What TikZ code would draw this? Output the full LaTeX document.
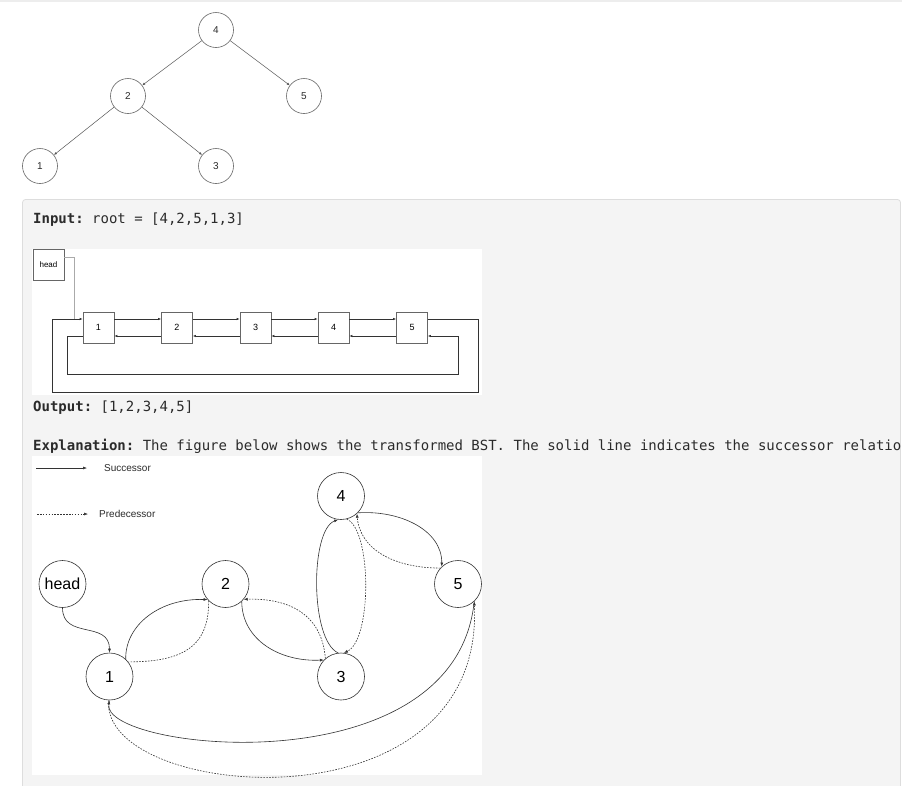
\documentclass[tikz,border=0pt]{standalone}
\usepackage{fontspec}
\setmainfont{Liberation Sans}
\newfontfamily\monof{DejaVu Sans Mono}
\usetikzlibrary{arrows.meta}
\frenchspacing
\definecolor{panelbg}{HTML}{F4F4F4}
\definecolor{panelrule}{HTML}{DDDDDD}
\definecolor{txt}{HTML}{2B2B2B}
\definecolor{treegray}{HTML}{666666}
\definecolor{edgegray}{HTML}{555555}
\definecolor{linegray}{HTML}{333333}
\definecolor{headgray}{HTML}{AAAAAA}
\tikzset{
  treenode/.style={circle, draw=treegray, line width=0.6pt, minimum size=35pt, inner sep=0pt, text=txt, font=\fontsize{10}{12}\selectfont},
  treeedge/.style={draw=edgegray, line width=0.5pt, -{Latex[length=3pt,width=2.4pt]}},
  llbox/.style={rectangle, draw=treegray, line width=0.6pt, minimum size=31pt, inner sep=0pt, text=black, font=\fontsize{9}{11}\selectfont},
  llarrow/.style={draw=linegray, line width=0.6pt, -{Latex[length=3pt,width=2.4pt]}},
  gnode/.style={circle, draw=linegray, line width=0.6pt, minimum size=47pt, inner sep=0pt, text=black, font=\fontsize{16}{19}\selectfont},
  succ/.style={draw=linegray, line width=0.6pt, -{Latex[length=4pt,width=3pt]}},
  pred/.style={draw=linegray, line width=0.6pt, dash pattern=on 1.6pt off 1.3pt, -{Latex[length=4pt,width=3pt]}},
  predplain/.style={draw=linegray, line width=0.6pt, dash pattern=on 1.6pt off 1.3pt},
  legtext/.style={anchor=west, inner sep=0pt, text=txt, font=\fontsize{10}{12}\selectfont},
  monotext/.style={anchor=base west, inner sep=0pt, text=txt, font=\monof\fontsize{14}{16}\selectfont\frenchspacing}
}
\begin{document}
\begin{tikzpicture}[x=1pt,y=-1pt]
\useasboundingbox (0,0) rectangle (902,785);
\fill[white] (0,0) rectangle (902,785);
\fill[black!7] (0,0) rectangle (902,2);
% panel
\filldraw[fill=panelbg, draw=panelrule, line width=0.8pt, rounded corners=3pt] (22.5,199.5) rectangle (900.5,810);
\fill[white] (32,249) rectangle (482,395);
\fill[white] (32,456) rectangle (482,775);

% ---------- top tree ----------
\node[treenode] (t4) at (216,30) {4};
\node[treenode] (t2) at (128,96) {2};
\node[treenode] (t5) at (304,96) {5};
\node[treenode] (t1) at (40,166) {1};
\node[treenode] (t3) at (216,166) {3};
\draw[treeedge] (t4) -- (t2);
\draw[treeedge] (t4) -- (t5);
\draw[treeedge] (t2) -- (t1);
\draw[treeedge] (t2) -- (t3);

% ---------- texts ----------
\node[monotext] (tin) at (33,223) {\textbf{Input:} root = [4,2,5,1,3]};
\node[monotext] (tout) at (33,411) {\textbf{Output:} [1,2,3,4,5]};
\node[monotext] (texp) at (33,450) {\textbf{Explanation:} The figure below shows the transformed BST. The solid line indicates the successor relation};

% ---------- linked list ----------
\node[llbox, font=\fontsize{8}{10}\selectfont] (hb) at (48.5,264.5) {head};
\node[llbox] (b1) at (98.5,327.5) {1};
\node[llbox] (b2) at (177,327.5) {2};
\node[llbox] (b3) at (255.5,327.5) {3};
\node[llbox] (b4) at (333.5,327.5) {4};
\node[llbox] (b5) at (412,327.5) {5};
\coordinate (hj) at (74,319);
\draw[headgray, line width=0.7pt] ([yshift=7.5pt]hb.east) -| (hj);
\foreach \a/\b in {b1/b2,b2/b3,b3/b4,b4/b5}{
  \draw[llarrow] ([yshift=8.5pt]\a.east) -- ([yshift=8.5pt]\b.west);
  \draw[llarrow] ([yshift=-8.5pt]\b.west) -- ([yshift=-8.5pt]\a.east);
}
\draw[llarrow] ([yshift=8.5pt]b5.east) -- (478,319) -- (478,392) -- (52,392) -- (52,319) -- ([yshift=8.5pt]b1.west);
\draw[llarrow] ([yshift=-8.5pt]b1.west) -- (67,336) -- (67,374) -- (458,374) -- (458,336) -- ([yshift=-8.5pt]b5.east);

% ---------- legend ----------
\coordinate (ls1) at (36,468);
\coordinate (ls2) at (87,468);
\coordinate (lp1) at (37,514);
\coordinate (lp2) at (88,514);
\draw[succ, line width=0.5pt, -{Latex[length=4pt,width=3pt]}] (ls1) -- (ls2);
\draw[pred, line width=0.5pt, -{Latex[length=4pt,width=3pt]}] (lp1) -- (lp2);
\node[legtext] (lsuc) at (104,468) {Successor};
\node[legtext] (lpre) at (99,514) {Predecessor};

% ---------- transformed graph ----------
\node[gnode] (hd) at (62.5,584) {head};
\node[gnode] (n2) at (225.5,584) {2};
\node[gnode] (n4) at (341,496) {4};
\node[gnode] (n5) at (458,584) {5};
\node[gnode] (n1) at (109.5,676.5) {1};
\node[gnode] (n3) at (341,676.5) {3};

\draw[succ] (hd.south) .. controls (62.5,640) and (109.5,620) .. (n1.north);
\draw[succ] (n1.47) .. controls (125,625) and (160,598) .. (n2.221);
\draw[predplain] (n2.225) .. controls (209,645) and (185,662) .. (n1.38);
\draw[succ] (n2.-47) .. controls (242,640) and (280,662) .. (n3.136);
\draw[pred] (n3.131) .. controls (322,615) and (290,598) .. (n2.-40);
\draw[succ] (n3.97) .. controls (310,640) and (310,530) .. (n4.263);
\draw[pred] (n4.-76) .. controls (372,530) and (372,640) .. (n3.83);
\draw[succ] (n4.-45) .. controls (400,510) and (442,530) .. (n5.133);
\draw[pred] (n5.138) .. controls (395,568) and (360,550) .. (n4.-48);
\draw[succ] (n5.-47) .. controls (455,790) and (100,750) .. (n1.south);
\draw[pred] (n1.-92) .. controls (100,800) and (485,835) .. (n5.-47);
\end{tikzpicture}
\end{document}
